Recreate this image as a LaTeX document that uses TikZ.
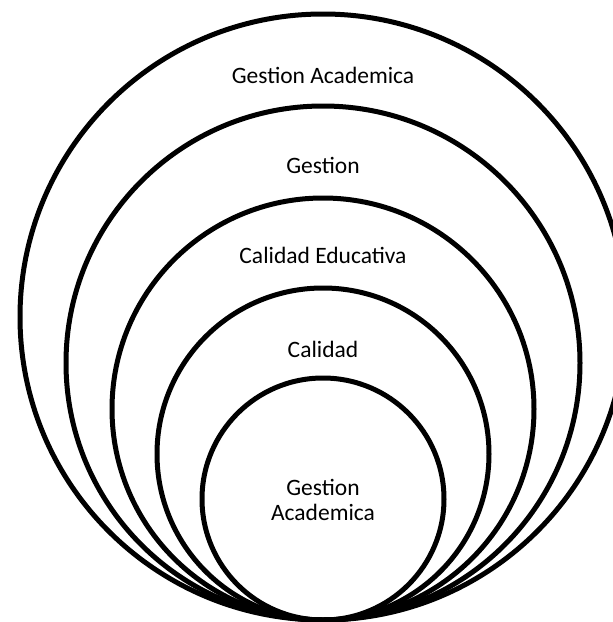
\documentclass[tikz,border=0pt]{standalone}
\usepackage{fontspec}
\setmainfont{Carlito}
\usetikzlibrary{calc}
\tikzset{
  ring/.style={draw=black, line width=5pt},
  lbl/.style={font=\fontsize{23.5}{25}\selectfont, align=center, inner sep=0pt}
}
\begin{document}
\begin{tikzpicture}[x=1pt,y=-1pt]
      \useasboundingbox (0,0) rectangle (613,622);
      \coordinate (base) at (323,620);
      \begin{scope}
        \draw[ring] ($(base)+(0,-303)$) circle (303);
        \draw[ring] ($(base)+(0,-257)$) circle (257);
        \draw[ring] ($(base)+(0,-211)$) circle (211);
        \draw[ring] ($(base)+(0,-166)$) circle (166);
        \draw[ring] ($(base)+(0,-121)$) circle (121);
      \end{scope}
      \draw
        (323,75) node[lbl] (ga){Gestion Academica}
        (323,165) node[lbl] (g){Gestion}
        (323,255) node[lbl] (ce){Calidad Educativa}
        (323,349) node[lbl] (c){Calidad}
        (323,500) node[lbl] (inner){Gestion\\Academica};
    \end{tikzpicture}
\end{document}
